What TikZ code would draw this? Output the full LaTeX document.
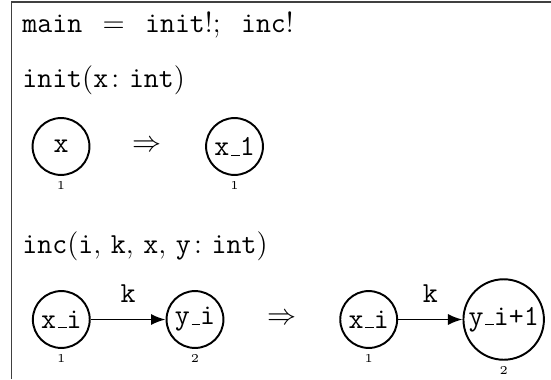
\documentclass[tikz,border=0pt]{standalone}
\usepackage{amsmath, amssymb}
\usepackage{tikz}
\usetikzlibrary{arrows.meta,positioning}

\newcommand{\us}{\kern.06em\vbox{\hrule width.3em}}
\newcommand{\bigfont}{\fontsize{12}{14.5}\selectfont}

\begin{document}
\begin{tikzpicture}[>={Latex[length=6pt,width=4.6pt]},
    every node/.style={font=\bigfont},
    var/.style={circle,draw,thick,minimum size=23.5pt,inner sep=1pt,font=\bigfont\ttfamily},
    idx/.style={label={[font=\fontsize{5}{6}\selectfont,inner sep=2pt]below:#1}},
    decl/.style={anchor=base west,inner sep=0pt}]
    \useasboundingbox (0,0) rectangle (8,5.503);
    \draw[black!75,line width=0.6pt] (0.167,0) |- (8,5.474);

    \node[decl] (prog) at (0.319,5.024) {\texttt{main}\hspace{0.7em}$=$\hspace{0.7em}\texttt{init}!;\hspace{0.7em}\texttt{inc}!};

    % init
    \node[decl] (initdecl) at (0.319,4.232) {$\mathtt{init}(\mathtt{x}\colon \mathtt{int})$};
    \node[var,idx=1] (ix) at (0.886,3.376) {x};
    \node (iarr) at (2.134,3.376) {$\Rightarrow$};
    \node[var,idx=1] (ix1) at (3.405,3.376) {x\us 1};

    % inc
    \node[decl] (incdecl) at (0.319,1.825) {$\mathtt{inc}(\mathtt{i},\,\mathtt{k},\,\mathtt{x},\,\mathtt{y}\colon \mathtt{int})$};
    \node[var,idx=1] (lx) at (0.890,0.864) {x\us i};
    \node[var,idx=2] (ly) at (2.831,0.864) {y\us i};
    \node (carr) at (4.090,0.864) {$\Rightarrow$};
    \node[var,idx=1] (rx) at (5.353,0.864) {x\us i};
    \node[var,idx=2] (ry) at (7.313,0.864) {y\us i+1};

    \draw[->,thick] (lx) -- node[above=3.2pt] {\texttt{k}} (ly);
    \draw[->,thick] (rx) -- node[above=3.2pt] {\texttt{k}} (ry);
\end{tikzpicture}
\end{document}
